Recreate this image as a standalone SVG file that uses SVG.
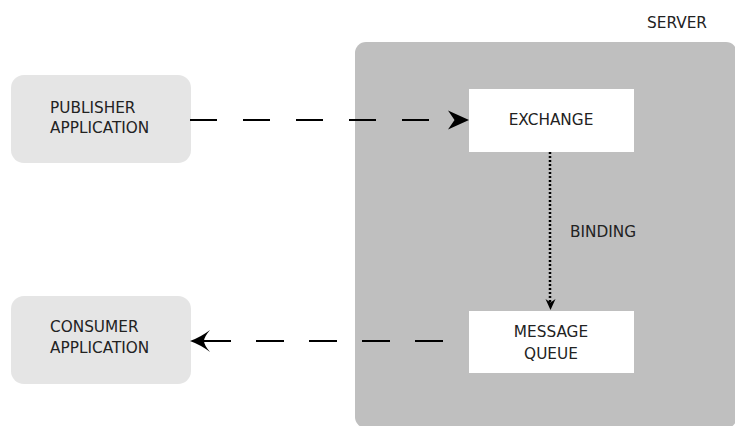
<svg xmlns="http://www.w3.org/2000/svg" width="735" height="426" viewBox="0 0 735 426">
  <style>
    .label { font-family: "DejaVu Sans", "Liberation Sans", sans-serif; font-size: 15.3px; fill: #222222; }
    .mid { text-anchor: middle; }
    .app { fill: #e5e5e5; }
    .inner { fill: #ffffff; }
    .flow { fill: none; stroke: #000000; stroke-width: 2; }
    .dash { stroke-dasharray: 27 26; }
    .dash2 { stroke-dasharray: 28 25; }
    .dots { fill: none; stroke: #000000; stroke-width: 2.5; stroke-dasharray: 2 2; }
    .head { fill: #000000; }
  </style>

  <!-- server container -->
  <g id="server">
    <rect x="355" y="42" width="382" height="386" rx="11" fill="#bfbfbf"/>
    <text class="label" x="647" y="28">SERVER</text>
  </g>

  <g id="publisher">
    <rect class="app" x="11" y="75" width="180" height="88" rx="13"/>
    <text class="label" x="50" y="112.5">PUBLISHER</text>
    <text class="label" x="50" y="133">APPLICATION</text>
  </g>

  <g id="consumer">
    <rect class="app" x="11" y="296" width="180" height="88" rx="13"/>
    <text class="label" x="50" y="332">CONSUMER</text>
    <text class="label" x="50" y="353">APPLICATION</text>
  </g>

  <g id="exchange">
    <rect class="inner" x="469" y="89" width="165" height="63"/>
    <text class="label mid" x="551" y="125">EXCHANGE</text>
  </g>

  <g id="queue">
    <rect class="inner" x="469" y="311" width="165" height="62"/>
    <text class="label mid" x="551" y="337">MESSAGE</text>
    <text class="label mid" x="551" y="359">QUEUE</text>
  </g>

  <!-- connectors -->
  <g id="connectors">
    <!-- publisher to exchange -->
    <path class="flow dash" d="M190,120 H452"/>
    <path class="head" d="M469,120 L448,110.5 L454.5,120 L448,129.5 Z"/>

    <!-- exchange to queue (binding) -->
    <path class="dots" d="M550,152 V303"/>
    <path class="head" d="M550.5,310 L545.5,299 L550.5,302.5 L555.5,299 Z"/>
    <text class="label" x="570" y="237">BINDING</text>

    <!-- queue to consumer -->
    <path class="flow dash2" d="M443,341 H204"/>
    <path class="head" d="M190,341 Q201,337 210,330 Q204,337 204,341 Q204,345 210,352 Q201,345 190,341 Z"/>
  </g>
</svg>
